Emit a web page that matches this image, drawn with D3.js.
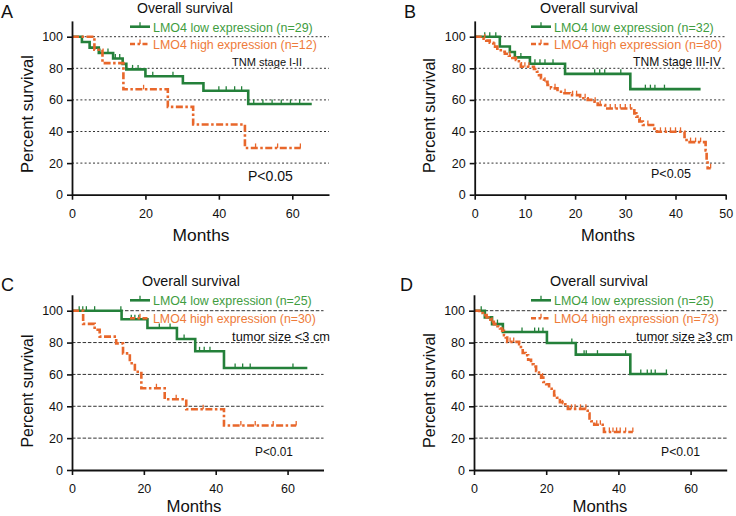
<!DOCTYPE html>
<html><head><meta charset="utf-8">
<script src="https://cdn.jsdelivr.net/npm/d3@7"></script>
<style>body{margin:0;background:#fff}svg{display:block}</style>
</head><body>
<svg id="chart" width="736" height="516"></svg>
<script>
// ---------------- DATA ----------------
const yTickValues = [0, 20, 40, 60, 80, 100];
const gridValues = [20, 40, 60, 80, 100];
const xTicksA = [0, 20, 40, 60];
const xTicksB = [0, 10, 20, 30, 40, 50];
const xTicksC = [0, 20, 40, 60];
const xTicksD = [0, 20, 40, 60];

const legendLowA = "LMO4 low expression (n=29)";
const legendHighA = "LMO4 high expression (n=12)";
const legendLowB = "LMO4 low expression (n=32)";
const legendHighB = "LMO4 high expression (n=80)";
const legendLowC = "LMO4 low expression (n=25)";
const legendHighC = "LMO4 high expression (n=30)";
const legendLowD = "LMO4 low expression (n=25)";
const legendHighD = "LMO4 high expression (n=73)";
const subgroupLabels = ["TNM stage I-II", "TNM stage III-IV", "tumor size <3 cm", "tumor size \u22653 cm"];
const pLabels = ["P<0.05", "P<0.05", "P<0.01", "P<0.01"];

// Panel A
const aLowTimes = [2.7, 4.8, 7.3, 11.2, 13.8, 14.8, 20, 30.2, 35.8, 48];
const aLowSurv  = [96.6, 93.1, 89.7, 86.2, 82.8, 79.3, 75.0, 70.5, 65.8, 57.4];
const aLowEnd = 65.3;
const aLowCensor = [7.6, 9.8, 11.8, 13, 16.5, 18, 22, 27.5, 40, 42, 44.3, 46.2, 49.5, 52, 54.5, 57, 59.5, 62];
const aHighTimes = [6.1, 8.3, 14, 26.1, 33, 47.1];
const aHighSurv  = [91.7, 83.3, 66.7, 55.6, 44.4, 29.6];
const aHighEnd = 62.3;
const aHighCensor = [19.5, 50, 56, 62.2];

// Panel B
const bLowTimes = [5, 7, 8, 11, 18, 31];
const bLowSurv  = [93.8, 90.3, 86.9, 82.9, 76.5, 66.8];
const bLowEnd = 45;
const bLowCensor = [2, 3, 4.2, 9.2, 12, 13, 14, 15.6, 23.9, 24.9, 25.9, 29.1, 34, 35, 35.9, 37.8];
const bHighTimes = [1.5, 2.3, 3, 3.7, 4.5, 5.2, 6, 6.8, 7.5, 8.2, 8.8, 9.2, 11.8, 12.4, 12.8, 13.2, 13.8, 14.5, 15.2, 16.5, 17.5, 19, 21, 22.5, 23.5, 24.5, 26, 31.8, 32.2, 32.8, 33.5, 35.8, 36.3, 41.8, 42.2, 46, 46.2, 46.4];
const bHighSurv  = [98.8, 97.5, 96.2, 93.7, 92.4, 90.5, 89.2, 87.9, 86.6, 85.3, 83.2, 81.0, 79.6, 77.8, 75.7, 73.7, 71.5, 69.4, 67.3, 65.2, 64.2, 63.0, 61.0, 60.0, 58.9, 56.8, 54.6, 51.5, 49.4, 46.3, 44.1, 41.8, 39.8, 36.5, 33.3, 28.0, 22.0, 16.7];
const bHighEnd = 47;
const bHighCensor = [2, 4, 7, 10, 10.8, 14, 16, 18, 19.5, 20.3, 22, 24, 25, 27, 28, 29, 30, 31, 33, 34.5, 37, 38, 39, 40, 41, 43, 44, 45, 47];

// Panel C
const cLowTimes = [13.8, 21, 29.2, 34.3, 42.3];
const cLowSurv  = [94.6, 89.1, 82.2, 74.5, 64.0];
const cLowEnd = 65.5;
const cLowCensor = [2, 3, 4, 6.3, 13.6, 16.5, 17.5, 18.6, 24.3, 27.3, 31.2, 35.5, 36.8, 38.4, 45.4, 47.5, 49.6, 61.5];
const cHighTimes = [3.1, 6.3, 7.7, 12.3, 14.2, 16.1, 17.5, 19.3, 25.8, 31.8, 42.3];
const cHighSurv  = [91.7, 88.0, 83.7, 79.5, 73.2, 67.0, 61.7, 51.3, 44.4, 38.1, 27.9];
const cHighEnd = 62.4;
const cHighCensor = [23.5, 29, 36.5, 47, 51, 56, 62.4];

// Panel D
const dLowTimes = [3, 5, 8, 20.2, 28.2, 43.3];
const dLowSurv  = [95.8, 91.6, 86.6, 79.7, 72.4, 60.3];
const dLowEnd = 53.5;
const dLowCensor = [2, 6.5, 13.3, 16.8, 17.9, 19.1, 27.1, 30.5, 31.1, 34.2, 42, 46.2, 48, 49.1, 50.2, 53.3];
const dHighTimes = [1.5, 2.5, 3.5, 4, 4.8, 5.5, 6.5, 7.2, 7.8, 8.3, 8.8, 9.2, 12.5, 13, 13.5, 14.3, 15, 15.8, 16.5, 17.2, 18, 18.6, 19.2, 20, 20.8, 21.5, 22.2, 23, 23.8, 24.5, 25.3, 26, 31.5, 32, 32.5, 33.3, 36];
const dHighSurv  = [98.6, 97.2, 95.8, 94.4, 93.0, 91.6, 90.2, 88.8, 87.4, 84.6, 83.2, 80.4, 79.0, 76.2, 73.4, 72.0, 69.2, 66.4, 65.0, 62.2, 59.4, 58.0, 55.2, 53.8, 51.0, 49.6, 46.8, 45.4, 42.6, 41.2, 39.8, 38.4, 35.4, 32.4, 30.6, 28.4, 23.9];
const dHighEnd = 44;
const dHighCensor = [5, 10, 11, 19, 24.5, 27, 28, 29.5, 31, 34, 35, 37.5, 38.5, 39.5, 40.5, 42, 44];

// ---------------- DRAWING ----------------
const FONT = "'Liberation Sans', Arial, Helvetica, sans-serif";
const GREEN = "#24803a", ORANGE = "#e8672b";
const GREEN_TXT = "#3f9d3f", ORANGE_TXT = "#ee7b3a";
const svg = d3.select("#chart");

// layout (pixel targets)
const panels = [
  { letter: "A", lx: 1, ly: 18, xMax: 70, xTicks: xTicksA, xLeft: 72, xRight: 329, yBottom: 194.7, y100: 36.7,
    titleX: 185, titleY: 12.5, titleW: 96, legX: 130, legY1: 26.7, legY2: 44, legW1: 160, legW2: 164,
    annX: 302, annY: 66, annW: 70, pX: 248, pY: 181, pW: 45, monthsX: 201, monthsY: 241, monthsW: 57,
    psX: 33, psY: 114, psW: 118, gridDash: "2,2.2",
    low: [aLowTimes, aLowSurv, aLowEnd, aLowCensor], high: [aHighTimes, aHighSurv, aHighEnd, aHighCensor],
    legLow: legendLowA, legHigh: legendHighA, idx: 0 },
  { letter: "B", lx: 404, ly: 18, xMax: 50, xTicks: xTicksB, xLeft: 474.7, xRight: 725.7, yBottom: 194.7, y100: 36.7,
    titleX: 589, titleY: 12.5, titleW: 98, legX: 531, legY1: 26.7, legY2: 44, legW1: 160, legW2: 168,
    annX: 721, annY: 66, annW: 88, pX: 651, pY: 178, pW: 40, monthsX: 608, monthsY: 241, monthsW: 54,
    psX: 435, psY: 115.5, psW: 115, gridDash: "2,2.2",
    low: [bLowTimes, bLowSurv, bLowEnd, bLowCensor], high: [bHighTimes, bHighSurv, bHighEnd, bHighCensor],
    legLow: legendLowB, legHigh: legendHighB, idx: 1 },
  { letter: "C", lx: 1, ly: 291, xMax: 70, xTicks: xTicksC, xLeft: 72, xRight: 323.5, yBottom: 470, y100: 310.7,
    titleX: 191, titleY: 285.5, titleW: 98, legX: 130, legY1: 300.3, legY2: 318.3, legW1: 159, legW2: 163,
    annX: 330, annY: 341, annW: 98, pX: 255, pY: 456, pW: 38, monthsX: 194, monthsY: 512, monthsW: 55,
    psX: 33, psY: 391, psW: 113, gridDash: "3.5,1.8",
    low: [cLowTimes, cLowSurv, cLowEnd, cLowCensor], high: [cHighTimes, cHighSurv, cHighEnd, cHighCensor],
    legLow: legendLowC, legHigh: legendHighC, idx: 2 },
  { letter: "D", lx: 400, ly: 291, xMax: 70, xTicks: xTicksD, xLeft: 474, xRight: 726.7, yBottom: 470, y100: 310.7,
    titleX: 599, titleY: 285.5, titleW: 98, legX: 531, legY1: 300.3, legY2: 318.3, legW1: 160, legW2: 165,
    annX: 733, annY: 341, annW: 97, pX: 661, pY: 456, pW: 39, monthsX: 600, monthsY: 512, monthsW: 55,
    psX: 435, psY: 390.5, psW: 115, gridDash: "3.5,1.8",
    low: [dLowTimes, dLowSurv, dLowEnd, dLowCensor], high: [dHighTimes, dHighSurv, dHighEnd, dHighCensor],
    legLow: legendLowD, legHigh: legendHighD, idx: 3 }
];

function survAt(times, surv, t) {
  let s = 100;
  for (let i = 0; i < times.length; i++) { if (times[i] <= t) s = surv[i]; }
  return s;
}

// scale font so the rendered text width matches the reference width
function fit(sel, target) {
  const w = sel.node().getComputedTextLength();
  if (w > 0) sel.attr("font-size", (+sel.attr("font-size")) * target / w);
  return sel;
}

function drawPanel(p) {
  const x = d3.scaleLinear().domain([0, p.xMax]).range([p.xLeft, p.xRight]);
  const yTop = p.yBottom - 1.1 * (p.yBottom - p.y100);
  const y = d3.scaleLinear().domain([0, 110]).range([p.yBottom, yTop]);
  const g = svg.append("g").attr("font-family", FONT);

  g.selectAll("line.grid").data(gridValues).join("line")
    .attr("class", "grid")
    .attr("x1", x(0)).attr("x2", x(p.xMax))
    .attr("y1", d => y(d)).attr("y2", d => y(d))
    .attr("stroke", "#333").attr("stroke-width", 1)
    .attr("stroke-dasharray", p.gridDash);

  const line = d3.line().x(d => x(d[0])).y(d => y(d[1])).curve(d3.curveStepAfter);

  function drawSeries(series, color, dash) {
    const [times, surv, end, censor] = series;
    const pts = [[0, 100]];
    times.forEach((t, i) => pts.push([t, surv[i]]));
    pts.push([end, surv[surv.length - 1]]);
    g.append("path").datum(pts).attr("d", line)
      .attr("fill", "none").attr("stroke", color).attr("stroke-width", 2.6)
      .attr("stroke-dasharray", dash);
    g.selectAll(null).data(censor).join("line")
      .attr("x1", d => x(d)).attr("x2", d => x(d))
      .attr("y1", d => y(survAt(times, surv, d)) - 4.5)
      .attr("y2", d => y(survAt(times, surv, d)))
      .attr("stroke", color).attr("stroke-width", 1.3);
  }
  drawSeries(p.low, GREEN, null);
  drawSeries(p.high, ORANGE, "7,2.5,2.5,2.5");

  const xAxis = d3.axisBottom(x).tickValues(p.xTicks).tickSize(5).tickPadding(9).tickSizeOuter(0);
  const yAxis = d3.axisLeft(y).tickValues(yTickValues).tickSize(5).tickPadding(4).tickSizeOuter(0);
  const gx = g.append("g").attr("transform", `translate(0,${p.yBottom})`).call(xAxis);
  const gy = g.append("g").attr("transform", `translate(${p.xLeft},0)`).call(yAxis);
  [gx, gy].forEach(a => {
    a.select(".domain").attr("stroke", "#111").attr("stroke-width", 1.8);
    a.selectAll(".tick line").attr("stroke", "#111").attr("stroke-width", 1.6);
    a.selectAll(".tick text").attr("font-size", 12.5).attr("fill", "#111").attr("font-family", FONT);
  });

  g.append("text").attr("x", p.lx).attr("y", p.ly).attr("font-size", 18).attr("fill", "#111").text(p.letter);
  fit(g.append("text").attr("x", p.titleX).attr("y", p.titleY).attr("text-anchor", "middle")
    .attr("font-size", 14).attr("fill", "#111").text("Overall survival"), p.titleW);

  const legItems = [
    { y: p.legY1, color: GREEN, txt: GREEN_TXT, dash: null, label: p.legLow, w: p.legW1 },
    { y: p.legY2, color: ORANGE, txt: ORANGE_TXT, dash: "5,2.5,2.5,2.5", label: p.legHigh, w: p.legW2 }
  ];
  legItems.forEach(it => {
    g.append("line").attr("x1", p.legX).attr("x2", p.legX + 20).attr("y1", it.y).attr("y2", it.y)
      .attr("stroke", it.color).attr("stroke-width", 2.6).attr("stroke-dasharray", it.dash);
    g.append("line").attr("x1", p.legX + 10).attr("x2", p.legX + 10).attr("y1", it.y - 4.5).attr("y2", it.y)
      .attr("stroke", it.color).attr("stroke-width", 1.3);
    fit(g.append("text").attr("x", p.legX + 23).attr("y", it.y + 4.8).attr("font-size", 13)
      .attr("fill", it.txt).text(it.label), it.w);
  });
  fit(g.append("text").attr("x", p.annX).attr("y", p.annY).attr("text-anchor", "end")
    .attr("font-size", 12).attr("fill", "#111").text(subgroupLabels[p.idx]), p.annW);
  fit(g.append("text").attr("x", p.pX).attr("y", p.pY).attr("font-size", 13).attr("fill", "#111")
    .text(pLabels[p.idx]), p.pW);
  fit(g.append("text").attr("x", p.monthsX).attr("y", p.monthsY).attr("text-anchor", "middle")
    .attr("font-size", 17).attr("fill", "#111").text("Months"), p.monthsW);
  fit(g.append("text").attr("transform", `translate(${p.psX},${p.psY}) rotate(-90)`).attr("text-anchor", "middle")
    .attr("font-size", 16.5).attr("fill", "#111").text("Percent survival"), p.psW);
}

panels.forEach(drawPanel);
</script>
</body></html>
